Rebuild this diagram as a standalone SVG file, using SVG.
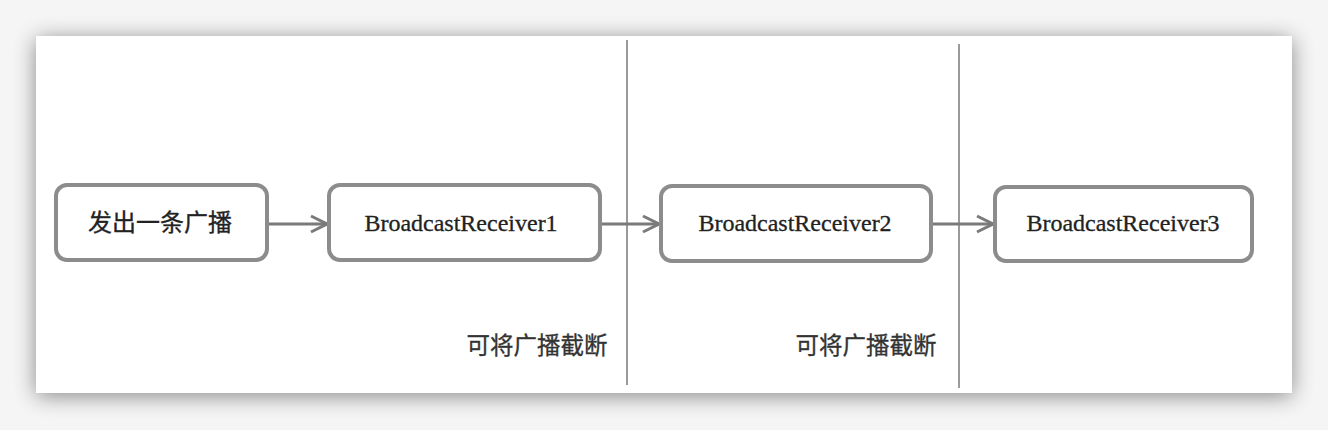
<svg xmlns="http://www.w3.org/2000/svg" width="1328" height="430" viewBox="0 0 1328 430">
<defs>
<filter id="sh" x="-10%" y="-20%" width="120%" height="140%">
<feGaussianBlur in="SourceAlpha" stdDeviation="11"/>
<feOffset dx="0" dy="3"/>
<feComponentTransfer><feFuncA type="linear" slope="0.45"/></feComponentTransfer>
<feMerge><feMergeNode/><feMergeNode in="SourceGraphic"/></feMerge>
</filter>
<marker id="arr" viewBox="0 0 20 20" refX="18" refY="10" markerWidth="20" markerHeight="20" markerUnits="userSpaceOnUse" orient="auto">
<path d="M2,2 L18,10 L2,18" fill="none" stroke="#7a7a7a" stroke-width="3"/>
</marker>
</defs>
<style>
.box{fill:#fff;stroke:#8c8c8c;stroke-width:4}
.t{font-family:"Liberation Serif","Noto Sans CJK SC",serif;font-size:24px;fill:#222;stroke:#222;stroke-width:0.3;text-anchor:middle}
.c{font-family:"Liberation Serif","Noto Sans CJK SC",serif;font-size:23.5px;fill:#333;stroke:#333;stroke-width:0.3;text-anchor:middle}
.sep{stroke:#9a9a9a;stroke-width:2}
.con{stroke:#7a7a7a;stroke-width:3;fill:none}
</style>
<rect x="0" y="0" width="1328" height="430" fill="#f5f5f5"/>
<rect x="36" y="36" width="1256" height="357" fill="#fff" filter="url(#sh)"/>
<g id="separators">
<line class="sep" x1="627" y1="40" x2="627" y2="385"/>
<line class="sep" x1="959" y1="44" x2="959" y2="388"/>
</g>
<g id="connectors">
<line class="con" x1="267" y1="224" x2="327" y2="224" marker-end="url(#arr)"/>
<line class="con" x1="600" y1="224" x2="659" y2="224" marker-end="url(#arr)"/>
<line class="con" x1="931" y1="224" x2="993" y2="224" marker-end="url(#arr)"/>
</g>
<g id="n0">
<rect class="box" x="56" y="185" width="211" height="75" rx="11"/>
<text class="t" x="160" y="231">发出一条广播</text>
</g>
<g id="n1">
<rect class="box" x="329" y="185" width="271" height="75" rx="11"/>
<text class="t" x="461" y="231">BroadcastReceiver1</text>
</g>
<g id="n2">
<rect class="box" x="661" y="186" width="270" height="75" rx="11"/>
<text class="t" x="795" y="231">BroadcastReceiver2</text>
</g>
<g id="n3">
<rect class="box" x="995" y="187" width="257" height="74" rx="11"/>
<text class="t" x="1123" y="231">BroadcastReceiver3</text>
</g>
<g id="labels">
<text class="c" x="537" y="354">可将广播截断</text>
<text class="c" x="866" y="354">可将广播截断</text>
</g>
</svg>
